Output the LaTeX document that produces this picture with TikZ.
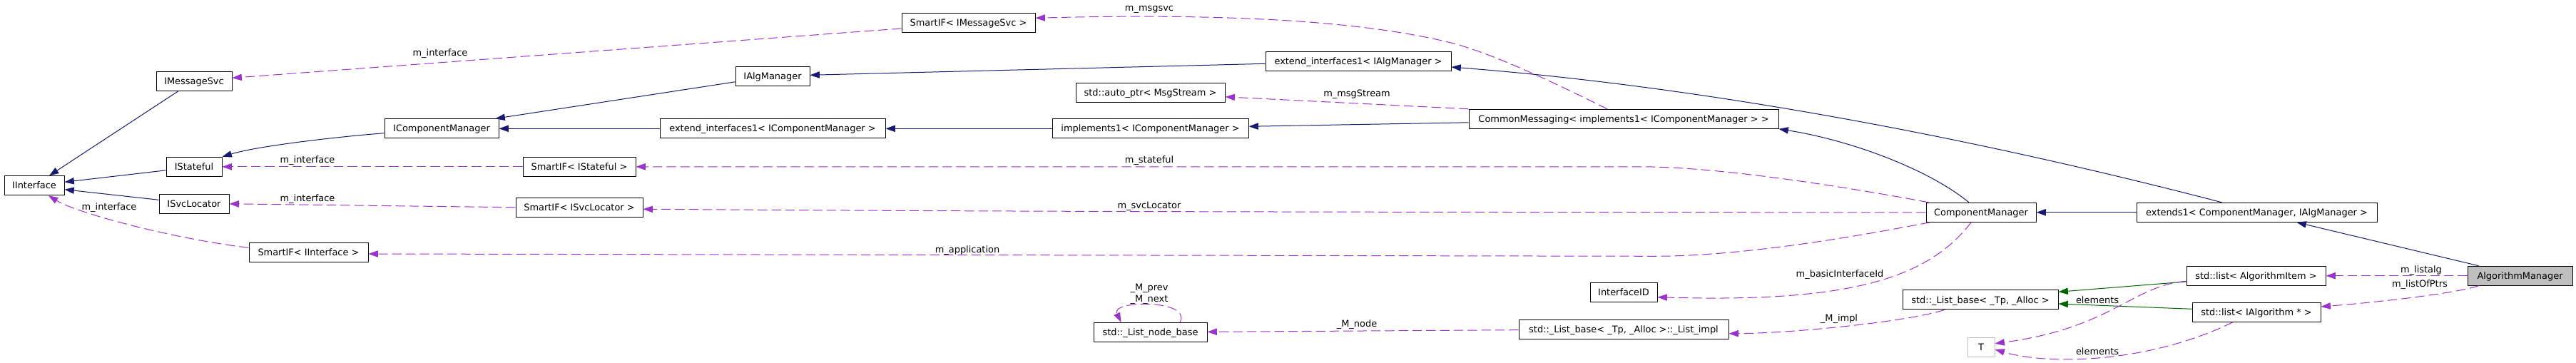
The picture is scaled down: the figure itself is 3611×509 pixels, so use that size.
\documentclass[tikz,border=0pt]{standalone}
\usepackage{fontspec}
\setmainfont{DejaVu Sans}
\usetikzlibrary{arrows.meta}

\begin{document}
\begin{tikzpicture}[x=.75pt,y=-.75pt,
  box/.style={draw,line width=.75pt,rectangle,inner sep=0pt,
    minimum height=27*.75pt,font=\fontsize{9.7}{11.8}\selectfont,
    text height=8.5pt,text depth=1.45pt},
  lbl/.style={inner sep=0pt,align=center,font=\fontsize{9.7}{11.8}\selectfont},
  inh/.style={draw=k1,line width=.75pt,-{Triangle[length=10pt,width=7pt]}},
  tpl/.style={draw=k3,line width=.75pt,-{Triangle[length=10pt,width=7pt]}},
  mbr/.style={draw=k2,line width=.75pt,dash pattern=on 10pt off 4.5pt,
    -{Triangle[length=10pt,width=7pt]}}]
 \definecolor{k1}{RGB}{25,25,112}
 \definecolor{k2}{RGB}{154,50,205}
 \definecolor{k3}{RGB}{0,100,0}
 \definecolor{k4}{RGB}{191,191,191}
 \useasboundingbox[fill=white] (0,0) rectangle (3611,509);
 % classes
 \foreach \nm/\xp/\yp/\bw/\txt in {
   iif/48/260.3/84/IInterface,
   imsg/272/113.7/106/IMessageSvc,
   istate/272/233.8/78/IStateful,
   isvc/272/285.8/98/ISvcLocator,
   sif/432.5/353.8/167/SmartIF< IInterface >,
   icm/619/180.3/160/IComponentManager,
   ialg/1083/106.8/104/IAlgManager,
   exticm/1083/180.3/316/extend\_interfaces1< IComponentManager >,
   sstate/812/233.8/158/SmartIF< IStateful >,
   ssvc/812/290.8/178/SmartIF< ISvcLocator >,
   smsg/1357.5/32.3/187/SmartIF< IMessageSvc >,
   extalg/1904/85.7/260/extend\_interfaces1< IAlgManager >,
   aptr/1612.5/129.8/209/std::auto\_ptr< MsgStream >,
   impl/1612.5/180.3/275/implements1< IComponentManager >,
   lnode/1612.5/465.8/159/std::\_List\_node\_base,
   cmsg/2276/166.8/434/CommonMessaging< implements1< IComponentManager > >,
   iid/2276/410/94/InterfaceID,
   limpl/2276/461.8/294/{std::\_List\_base< \_Tp, \_Alloc >::\_List\_impl},
   cmgr/2777/297.8/154/ComponentManager,
   ext1/3163.5/297.8/337/{extends1< ComponentManager, IAlgManager >},
   lalgi/3162.5/386.7/195/std::list< AlgorithmItem >,
   lbase/2776/420.3/218/{std::\_List\_base< \_Tp, \_Alloc >},
   lalgp/3163/437.8/180/std::list< IAlgorithm * >
 } {
   \node[box,minimum width=\bw*.75pt] (\nm) at (\xp,\yp) {\txt};
 }
 \node[box,draw=k4,minimum width=38*.75pt] (tt) at (2777,486.7) {T};
 \node[box,fill=k4,minimum width=147*.75pt] (algmgr) at (3532.5,386.7) {AlgorithmManager};
 % inheritance
 \draw[inh] ([shift={(-22,0)}]imsg.south) -- ([shift={(21,0)}]iif.north);
 \draw[inh] ([shift={(0,5)}]istate.west) -- ([shift={(0,-5)}]iif.east);
 \draw[inh] ([shift={(0,-5.5)}]isvc.west) -- ([shift={(0,5.4)}]iif.east);
 \draw[inh] ([shift={(0,6.4)}]icm.west) .. controls (470,192) and (360,205) .. (istate.north east);
 \draw[inh] ([shift={(0,8)}]ialg.west) -- ([shift={(-5,0)}]icm.north east);
 \draw[inh] (exticm) -- (icm);
 \draw[inh] (impl) -- (exticm);
 \draw[inh] ([shift={(0,3.6)}]extalg.west) -- ([shift={(0,-1.5)}]ialg.east);
 \draw[inh] ([shift={(0,5)}]cmsg.west) -- ([shift={(0,-3)}]impl.east);
 \draw[inh] ([shift={(-17,0)}]cmgr.north) .. controls (2700,235) and (2590,196) .. (cmsg.south east);
 \draw[inh] ([shift={(-49,0)}]ext1.north) .. controls (2766,193) and (2392,122) .. ([shift={(0,8.3)}]extalg.east);
 \draw[inh] (ext1) -- (cmgr);
 \draw[inh] ([shift={(-58,0)}]algmgr.north) -- ([shift={(56,0)}]ext1.south);
 % template instances
 \draw[tpl] ([shift={(0,8.3)}]lalgi.west) -- ([shift={(0,-11)}]lbase.east);
 \draw[tpl] ([shift={(0,-4.5)}]lalgp.west) -- ([shift={(0,5.7)}]lbase.east);
 % members
 \draw[mbr] ([shift={(0,7.7)}]smsg.west) -- ([shift={(0,-4.4)}]imsg.east);
 \draw[mbr] (sstate) -- (istate);
 \draw[mbr] (ssvc.west) -- (isvc.east);
 \draw[mbr] ([shift={(0,-6.5)}]sif.west) .. controls (250,336) and (110,300) .. ([shift={(20,0)}]iif.south);
 \draw[mbr] ([shift={(-23,0)}]cmsg.north) .. controls (2193,123) and (2094,75) .. (2034,60)
   .. controls (1900,27) and (1700,19) .. ([shift={(0,-7)}]smsg.east);
 \draw[mbr] (cmsg.north west) -- ([shift={(0,6)}]aptr.east);
 \draw[mbr] ([shift={(4,0)}]cmgr.north west) .. controls (2620,268) and (2420,233.8) .. (2300,233.8) -- (sstate.east);
 \draw[mbr] (cmgr.west) .. controls (1400,297.8) and (1050,294) .. ([shift={(0,2.5)}]ssvc.east);
 \draw[mbr] ([shift={(6,0)}]cmgr.south west) .. controls (2640,324) and (2460,359) .. (2320,359.3)
   -- ([shift={(0,2.2)}]sif.east);
 \draw[mbr] ([shift={(-14,0)}]cmgr.south) .. controls (2700,395) and (2580,424) .. ([shift={(0,6.7)}]iid.east);
 \draw[mbr] ([shift={(41.5,0)}]lnode.north) .. controls (1672,420) and (1556,420) .. ([shift={(-41,0)}]lnode.north);
 \draw[mbr] (limpl) -- (lnode);
 \draw[mbr] ([shift={(-50,0)}]lbase.south) .. controls (2680,450) and (2520,467) .. ([shift={(0,6)}]limpl.east);
 \draw[mbr] ([shift={(0,7.6)}]lalgi.west) .. controls (2990,400) and (2960,460) .. ([shift={(0,-5)}]tt.east);
 \draw[mbr] ([shift={(-33,0)}]lalgp.south) .. controls (3010,510) and (2870,512) .. ([shift={(0,3.3)}]tt.east);
 \draw[mbr] (algmgr) -- (lalgi);
 \draw[mbr] ([shift={(-58,0)}]algmgr.south) .. controls (3440,412) and (3330,424) .. ([shift={(0,-7.8)}]lalgp.east);
 % member labels
 \foreach \nm/\xp/\yp/\txt in {
   lb1/617/75/m\_interface,
   lb2/431/225/m\_interface,
   lb3/431/279/m\_interface,
   lb4/153/291/m\_interface,
   lb5/1611/13/m\_msgsvc,
   lb6/1902/132/m\_msgStream,
   lb7/1611/225/m\_stateful,
   lb8/1611/289/m\_svcLocator,
   lb9/1356/351/m\_application,
   lb10/1611/412/{\_M\_prev\\\_M\_next},
   lb11/1902/455/\_M\_node,
   lb12/2579/385/m\_basicInterfaceId,
   lb13/2578/447/\_M\_impl,
   lb14/2940/421/elements,
   lb15/2940/493/elements,
   lb16/3394/379/m\_listalg,
   lb17/3394/399/m\_listOfPtrs
 } {
   \node[lbl] (\nm) at (\xp,\yp) {\txt};
 }
\end{tikzpicture}
\end{document}
